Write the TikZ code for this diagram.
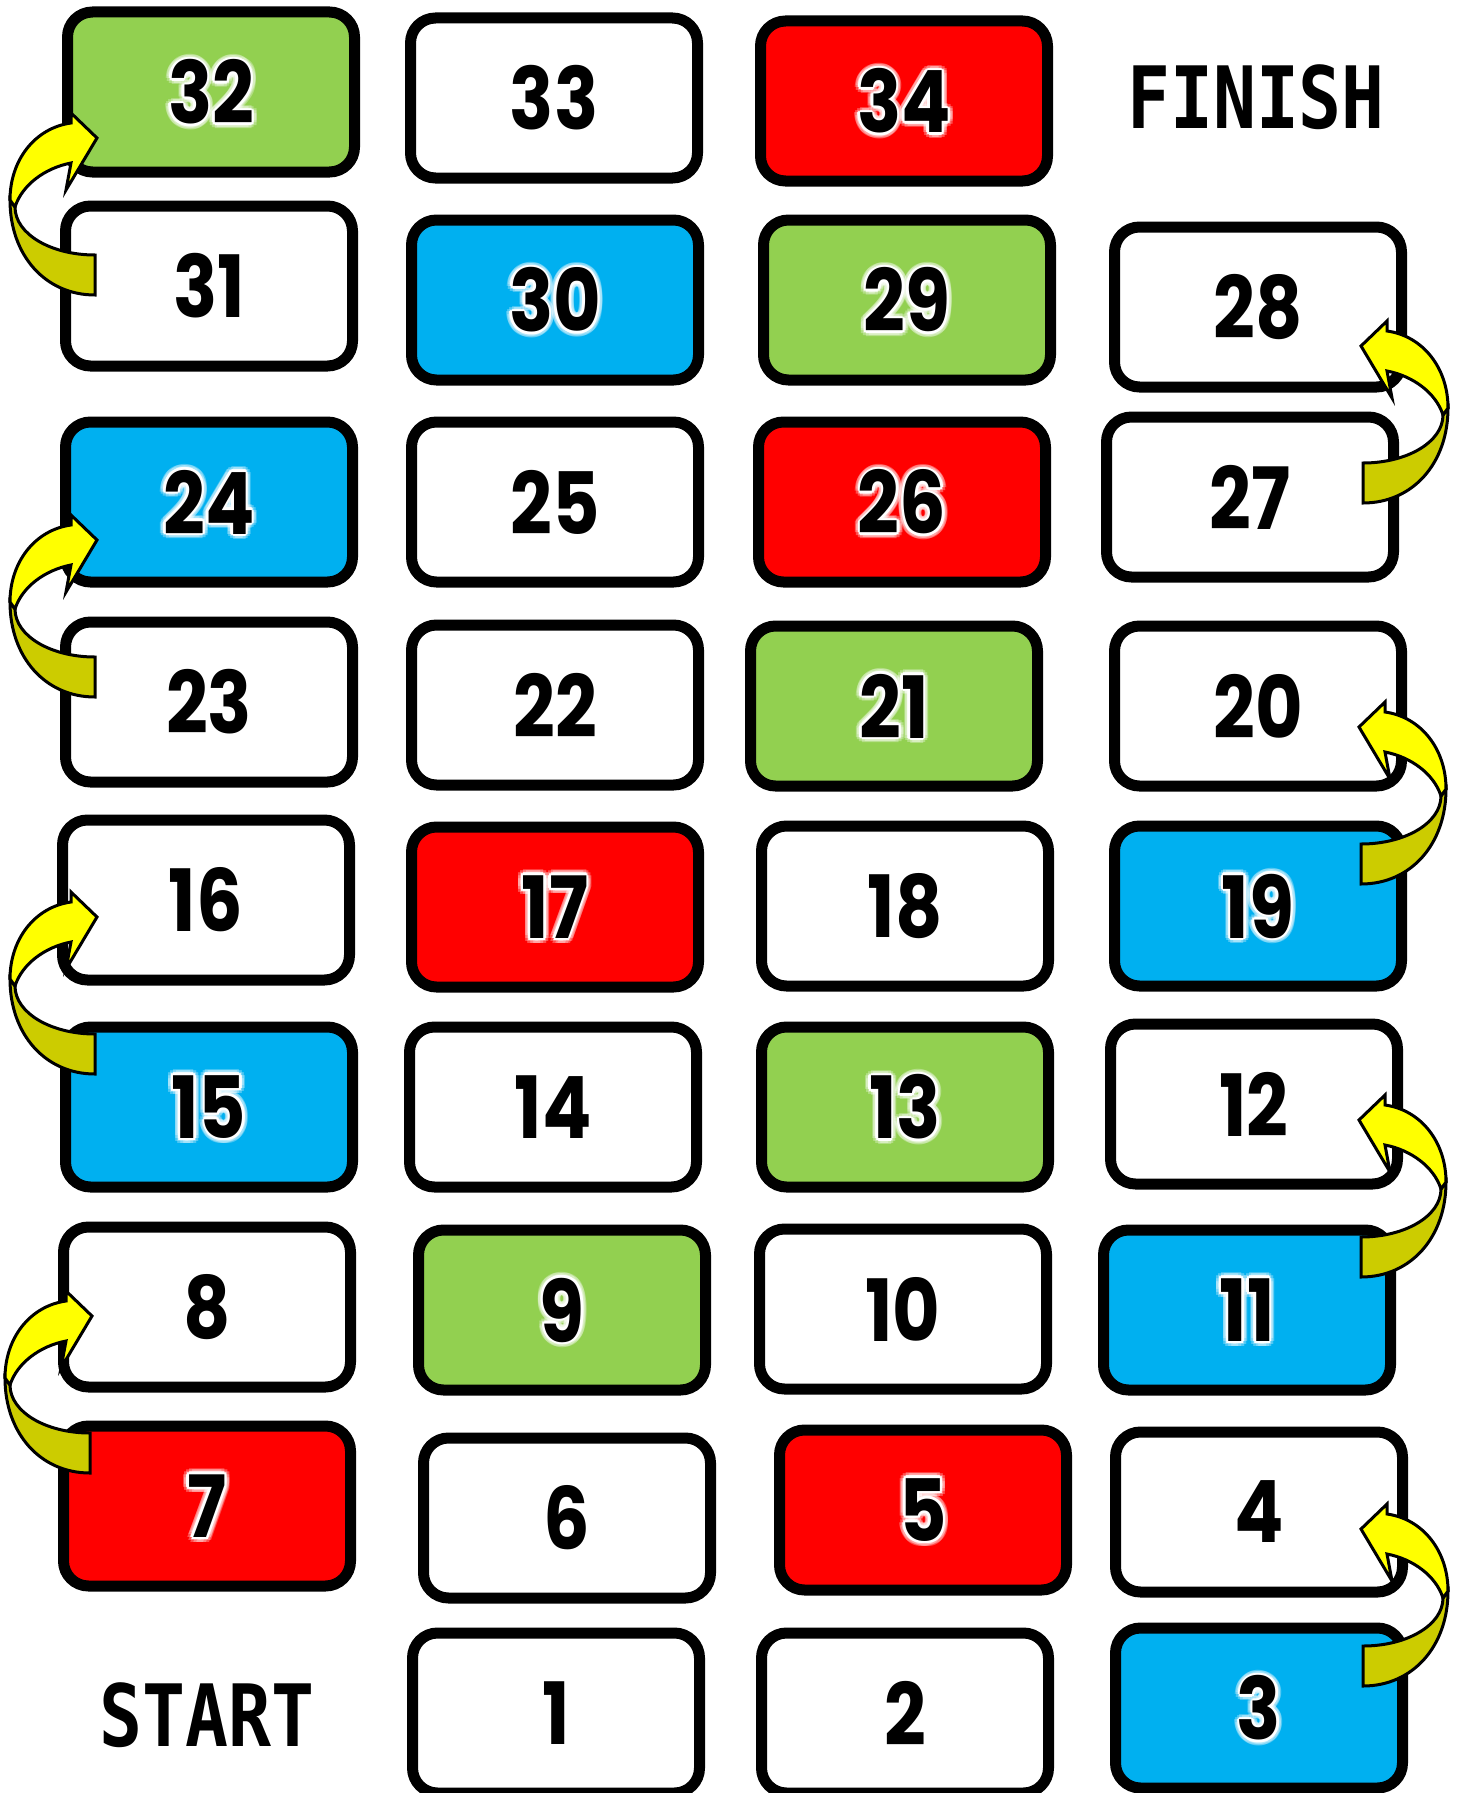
\documentclass[tikz,border=0pt]{standalone}
\usepackage{fontspec}
\usetikzlibrary{calc}
\newfontfamily\numfont{Poppins}[Numbers=Proportional]
\newfontfamily\wordfont{DejaVu Sans Mono}
\definecolor{tgreen}{HTML}{92D050}
\definecolor{tblue}{HTML}{00B0F0}
\definecolor{tred}{HTML}{FF0000}
\definecolor{ayellow}{HTML}{FFFF00}
\definecolor{aolive}{HTML}{CCCC00}
\newcommand\numtext[1]{{\numfont\bfseries\fontsize{86}{86}\selectfont\scalebox{0.85}[1]{#1}}}
\newcommand\wordtext[1]{{\wordfont\bfseries\fontsize{86}{86}\selectfont\scalebox{0.83}[1]{#1}}}
\tikzset{
  tile/.style={draw=black, line width=11pt, rounded corners=25pt,
    minimum width=287pt, minimum height=160pt, inner sep=0pt},
  lbl/.style={inner sep=0pt, text=black},
  arrowline/.style={draw=black, line width=3pt, line join=miter},
}
\newcommand\tileat[5]{\node[tile, fill=#4] (#1) at (#2,#3) {};
  \node[lbl] (#1l) at (#1) {\numtext{#5}};}
\newcommand\glowtile[5]{\node[tile, fill=#4] (#1) at (#2,#3) {};
  \foreach \ga in {0,30,...,330}{\node[lbl, text=white, opacity=0.3] at ($(#1)+(\ga:5.5pt)$) {\numtext{#5}};}
  \foreach \ga in {0,45,...,315}{\node[lbl, text=white] at ($(#1)+(\ga:2.5pt)$) {\numtext{#5}};}
  \node[lbl] (#1l) at (#1) {\numtext{#5}};}
% curved jump arrow: tail mid at (#1,#2); #3 = 1 (left side) or -1 (right side)
\newcommand\jumparrow[3]{%
  \begin{scope}[shift={(#1,#2)}, xscale=#3]
    \path[arrowline, fill=aolive] (0,-20) .. controls (-44,-20) and (-80,-41) .. (-80,-68)
      -- (-85,-75) .. controls (-85,-20) and (-50,20) .. (0,20) -- cycle;
    \path[arrowline, fill=ayellow] (-85,-75) .. controls (-85,-115) and (-60,-147) .. (-24,-152)
      -- (-24,-162) -- (2,-137) -- (-29,-85) -- (-24,-112)
      .. controls (-50,-107) and (-73,-90) .. (-80,-68) -- cycle;
  \end{scope}}
\begin{document}
\begin{tikzpicture}[x=1pt, y=-1pt]
\useasboundingbox[fill=white] (0,0) rectangle (1463,1793);
% row 1
\glowtile{t32}{211}{92}{tgreen}{32}
\tileat{t33}{554}{98}{white}{33}
\glowtile{t34}{904}{101}{tred}{34}
\node[lbl] (finish) at (1256,97) {\wordtext{FINISH}};
% row 2
\tileat{t31}{209}{286}{white}{31}
\glowtile{t30}{555}{300}{tblue}{30}
\glowtile{t29}{907}{300}{tgreen}{29}
\tileat{t28}{1258}{307}{white}{28}
% row 3
\glowtile{t24}{209}{502}{tblue}{24}
\tileat{t25}{555}{502}{white}{25}
\glowtile{t26}{902}{502}{tred}{26}
\tileat{t27}{1250}{497}{white}{27}
% row 4
\tileat{t23}{209}{702}{white}{23}
\tileat{t22}{555}{705}{white}{22}
\glowtile{t21}{894}{706}{tgreen}{21}
\tileat{t20}{1258}{706}{white}{20}
% row 5
\tileat{t16}{206}{900}{white}{16}
\glowtile{t17}{555}{907}{tred}{17}
\tileat{t18}{905}{906}{white}{18}
\glowtile{t19}{1258}{906}{tblue}{19}
% row 6
\glowtile{t15}{209}{1107}{tblue}{15}
\tileat{t14}{553}{1107}{white}{14}
\glowtile{t13}{905}{1107}{tgreen}{13}
\tileat{t12}{1254}{1104}{white}{12}
% row 7
\tileat{t8}{207}{1307}{white}{8}
\glowtile{t9}{562}{1310}{tgreen}{9}
\tileat{t10}{903}{1309}{white}{10}
\glowtile{t11}{1247}{1310}{tblue}{11}
% row 8
\glowtile{t7}{207}{1506}{tred}{7}
\tileat{t6}{567}{1518}{white}{6}
\glowtile{t5}{923}{1510}{tred}{5}
\tileat{t4}{1259}{1512}{white}{4}
% row 9
\node[lbl] (start) at (207,1715) {\wordtext{START}};
\tileat{t1}{556}{1713}{white}{1}
\tileat{t2}{905}{1713}{white}{2}
\glowtile{t3}{1259}{1708}{tblue}{3}
% arrows
\jumparrow{95}{275}{1}
\jumparrow{95}{677}{1}
\jumparrow{95}{1054}{1}
\jumparrow{90}{1453}{1}
\jumparrow{1363}{483}{-1}
\jumparrow{1361}{864}{-1}
\jumparrow{1361}{1257}{-1}
\jumparrow{1363}{1666}{-1}
\end{tikzpicture}
\end{document}
